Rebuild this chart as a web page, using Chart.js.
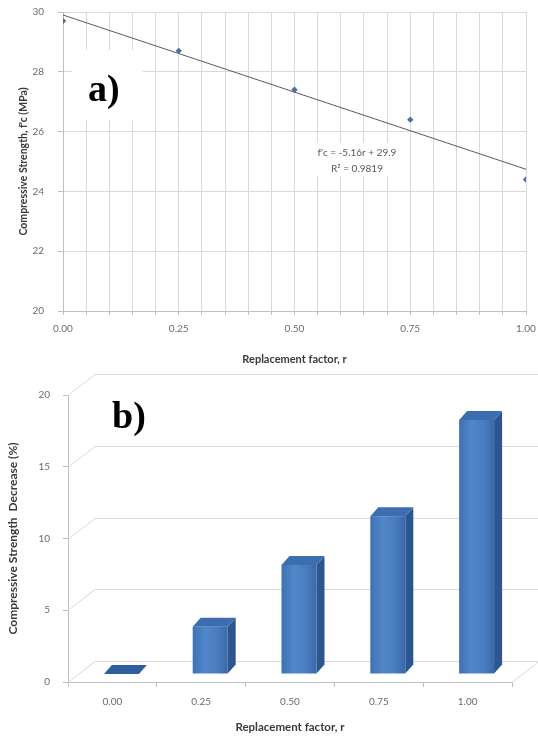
<!DOCTYPE html>
<html>
<head>
<meta charset="utf-8">
<script src="https://cdn.jsdelivr.net/npm/chart.js@4.4.1/dist/chart.umd.min.js"></script>
<style>
  html, body { margin: 0; padding: 0; background: #fff; }
  #wrap { position: relative; width: 538px; height: 738px; overflow: hidden; }
  .panel { position: absolute; left: 0; width: 538px; }
  #panelA { top: 0; height: 372px; }
  #panelB { top: 370px; height: 368px; }
</style>
</head>
<body>
<div id="wrap">
  <div class="panel" id="panelA"><canvas id="chartA" width="538" height="372"></canvas></div>
  <div class="panel" id="panelB"><canvas id="chartB" width="538" height="368"></canvas></div>
</div>
<script>
// ---- data ----
const replacementFactors = [0.00, 0.25, 0.50, 0.75, 1.00];
const compressiveStrength = [29.7, 28.7, 27.4, 26.4, 24.4];   // MPa
const trendSlope = -5.16;
const trendIntercept = 29.9;
const trendR2 = 0.9819;

const factorLabels = ['0.00', '0.25', '0.50', '0.75', '1.00'];
const strengthDecrease = [0, 3.3, 7.6, 11.0, 17.7];             // %

// ---- shared look ----
const SANS = 'Lato, "Open Sans", sans-serif';
const TICK_COLOR = '#6b6b6b';
const TITLE_COLOR = '#3a3a3a';
const GRID_COLOR = '#d9d9d9';
const AXIS_COLOR = '#bfbfbf';
Chart.defaults.font.family = SANS;
Chart.defaults.color = TICK_COLOR;

// ---- panel a: strength vs replacement factor with linear fit ----
const panelA = {
  id: 'panelA',
  beforeDatasetsDraw(chart) {
    const { ctx, scales: { x, y } } = chart;
    ctx.save();
    // panel letter on a white patch
    ctx.fillStyle = '#fff';
    ctx.fillRect(72, 50, 71, 70);
    ctx.fillStyle = '#000';
    ctx.font = 'bold 38px "Liberation Serif", "Times New Roman", serif';
    ctx.textBaseline = 'alphabetic';
    ctx.textAlign = 'left';
    ctx.fillText('a)', 88, 101);
    // fit equation
    const ex = x.getPixelForValue(0.635);
    const ey = y.getPixelForValue(25.3);
    ctx.fillStyle = '#fff';
    ctx.fillRect(ex - 52, ey - 10, 104, 34);
    ctx.fillStyle = '#595959';
    ctx.font = '10px ' + SANS;
    ctx.textAlign = 'center';
    ctx.textBaseline = 'middle';
    ctx.fillText("f'c = " + trendSlope + 'r + ' + trendIntercept, ex, ey);
    ctx.fillText('R\u00B2 = ' + trendR2, ex, ey + 16);
    ctx.restore();
  }
};

new Chart(document.getElementById('chartA'), {
  type: 'scatter',
  data: {
    datasets: [
      {
        label: 'Measured',
        data: replacementFactors.map((r, i) => ({ x: r, y: compressiveStrength[i] })),
        pointStyle: 'rectRot',
        pointRadius: 3.2,
        backgroundColor: '#4a6fa0',
        borderColor: '#4a6fa0',
        borderWidth: 0,
        order: 1
      },
      {
        label: 'Linear fit',
        type: 'line',
        data: [0, 1].map(r => ({ x: r, y: trendSlope * r + trendIntercept })),
        borderColor: '#555a63',
        borderWidth: 1,
        pointRadius: 0,
        fill: false,
        order: 2
      }
    ]
  },
  options: {
    responsive: false,
    animation: false,
    devicePixelRatio: 1,
    layout: { padding: { top: 12, right: 12, left: 0, bottom: 0 } },
    plugins: { legend: { display: false }, tooltip: { enabled: false } },
    scales: {
      x: {
        type: 'linear',
        min: 0, max: 1,
        afterFit(s) { s.height = 61; s.paddingRight = 0; },
        ticks: {
          stepSize: 0.05,
          autoSkip: false,
          maxRotation: 0,
          padding: 8,
          font: { size: 10 },
          color: TICK_COLOR,
          callback(v) {
            const q = v * 4;
            return Math.abs(q - Math.round(q)) < 1e-6 ? Number(v).toFixed(2) : '';
          }
        },
        grid: { color: GRID_COLOR, tickLength: 4, tickColor: AXIS_COLOR },
        border: { color: AXIS_COLOR },
        title: {
          display: true,
          text: 'Replacement factor, r',
          color: TITLE_COLOR,
          font: { size: 11, weight: 'bold' },
          padding: { top: 0, bottom: 6 }
        }
      },
      y: {
        min: 20, max: 30,
        afterFit(s) { s.width = 63; s.paddingTop = 0; },
        ticks: { stepSize: 2, padding: 14, font: { size: 10 }, color: TICK_COLOR },
        grid: { color: GRID_COLOR, tickLength: 5, tickColor: AXIS_COLOR },
        border: { color: AXIS_COLOR },
        title: {
          display: true,
          text: "Compressive Strength, f'c (MPa)",
          color: TITLE_COLOR,
          font: { size: 10.5, weight: 'bold' },
          padding: { top: 17, bottom: 0 }
        }
      }
    }
  },
  plugins: [panelA]
});

// ---- panel b: strength decrease, drawn as 3-D columns ----
const WALL_DX = 27, WALL_DY = -21;     // depth of the floor / back wall
const BAR_DX = 9, BAR_DY = -8;         // columns sit part-way into the floor
const COL_DX = 8, COL_DY = -9;         // depth of each column

const panelB = {
  id: 'panelB',
  beforeDatasetsDraw(chart) {
    const { ctx, chartArea, scales: { y } } = chart;
    ctx.save();
    ctx.strokeStyle = GRID_COLOR;
    ctx.lineWidth = 1;
    ctx.beginPath();
    y.ticks.forEach(t => {
      const py = Math.round(y.getPixelForValue(t.value)) + 0.5;
      ctx.moveTo(chartArea.left, py);
      ctx.lineTo(chartArea.left + WALL_DX, py + WALL_DY);
      ctx.lineTo(chart.width, py + WALL_DY);
    });
    const p0 = Math.round(y.getPixelForValue(0)) + 0.5;
    ctx.moveTo(chartArea.right, p0);
    ctx.lineTo(chartArea.right + WALL_DX, p0 + WALL_DY);
    ctx.stroke();
    // panel letter
    ctx.fillStyle = '#000';
    ctx.font = 'bold 38px "Liberation Serif", "Times New Roman", serif';
    ctx.textBaseline = 'alphabetic';
    ctx.fillText('b)', 112, 58);
    ctx.restore();
  },
  afterDatasetsDraw(chart) {
    const { ctx } = chart;
    const meta = chart.getDatasetMeta(0);
    ctx.save();
    meta.data.forEach(bar => {
      const { x, y, base, width } = bar.getProps(['x', 'y', 'base', 'width'], true);
      const l = x - width / 2 + BAR_DX, r = l + width;
      const t = y + BAR_DY, b = base + BAR_DY;
      // side face
      ctx.fillStyle = '#2c5690';
      ctx.beginPath();
      ctx.moveTo(r, t); ctx.lineTo(r + COL_DX, t + COL_DY);
      ctx.lineTo(r + COL_DX, b + COL_DY); ctx.lineTo(r, b);
      ctx.closePath(); ctx.fill();
      // top face
      ctx.fillStyle = b - t < 1 ? '#2f5e9e' : '#3c6dae';
      ctx.beginPath();
      ctx.moveTo(l, t); ctx.lineTo(l + COL_DX, t + COL_DY);
      ctx.lineTo(r + COL_DX, t + COL_DY); ctx.lineTo(r, t);
      ctx.closePath(); ctx.fill();
      // front face
      if (b - t > 0.5) {
        const g = ctx.createLinearGradient(l, 0, r, 0);
        g.addColorStop(0, '#3f70b2');
        g.addColorStop(0.35, '#5187cb');
        g.addColorStop(0.7, '#4a7dc0');
        g.addColorStop(1, '#3a68a8');
        ctx.fillStyle = g;
        ctx.fillRect(l, t, width, b - t);
      }
    });
    ctx.restore();
  }
};

new Chart(document.getElementById('chartB'), {
  type: 'bar',
  data: {
    labels: factorLabels,
    datasets: [{
      label: 'Strength decrease',
      data: strengthDecrease,
      backgroundColor: 'rgba(0,0,0,0)',
      borderWidth: 0,
      categoryPercentage: 1,
      barPercentage: 0.394
    }]
  },
  options: {
    responsive: false,
    animation: false,
    devicePixelRatio: 1,
    layout: { padding: { top: 25, right: 26, left: 0, bottom: 0 } },
    plugins: { legend: { display: false }, tooltip: { enabled: false } },
    scales: {
      x: {
        afterFit(s) { s.height = 56; s.paddingRight = 0; },
        ticks: { padding: 9, font: { size: 10 }, color: TICK_COLOR, maxRotation: 0 },
        grid: { offset: true, drawOnChartArea: false, tickLength: 5, color: AXIS_COLOR },
        border: { color: AXIS_COLOR },
        title: {
          display: true,
          text: 'Replacement factor, r',
          color: TITLE_COLOR,
          font: { size: 11.5, weight: 'bold' },
          padding: { top: 0, bottom: 4 }
        }
      },
      y: {
        min: 0, max: 20,
        afterFit(s) { s.width = 68; s.paddingTop = 0; },
        ticks: { stepSize: 5, padding: 13, font: { size: 10 }, color: TICK_COLOR },
        grid: { drawOnChartArea: false, tickLength: 5, color: AXIS_COLOR },
        border: { color: AXIS_COLOR },
        title: {
          display: true,
          text: 'Compressive Strength  Decrease (%)',
          color: TITLE_COLOR,
          font: { size: 12, weight: 'bold' },
          padding: { top: 6, bottom: 0 }
        }
      }
    }
  },
  plugins: [panelB]
});
</script>
</body>
</html>
